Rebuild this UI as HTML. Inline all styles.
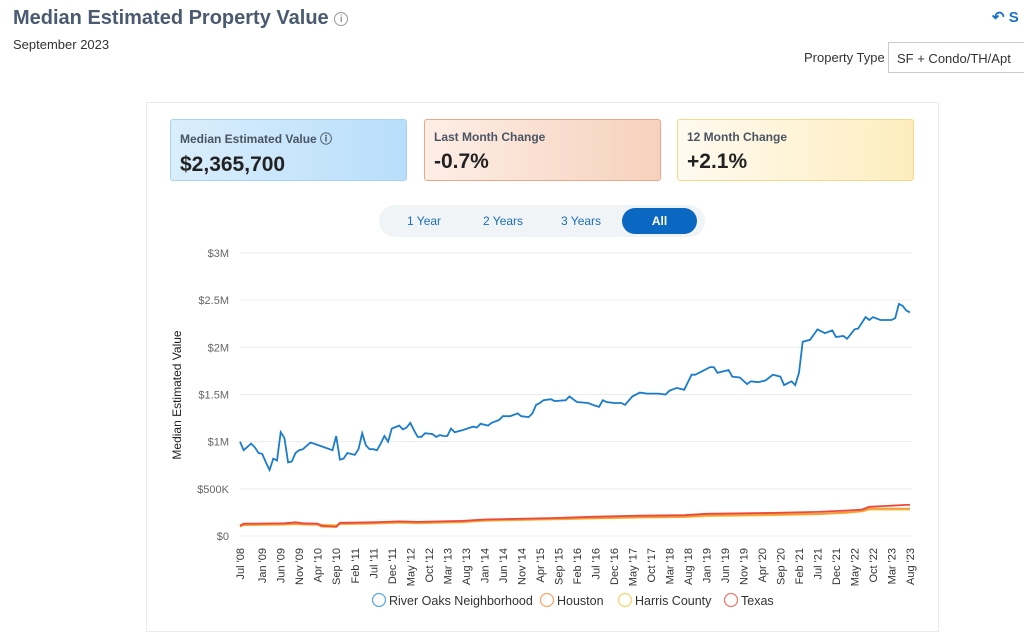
<!DOCTYPE html>
<html><head><meta charset="utf-8"><style>
*{box-sizing:border-box}
body{margin:0;width:1024px;height:615px;overflow:hidden;background:#fff;font-family:"Liberation Sans",sans-serif;position:relative}
.abs{position:absolute}
.box{position:absolute;top:119px;height:62px;border-radius:3px;padding:10px 9px}
.box .l{font-size:12px;color:#4a5563;font-weight:bold}
.box .v{font-size:21px;font-weight:bold;color:#222;margin-top:6px}
</style></head><body>
<div class="abs" style="left:13px;top:7px;font-size:20px;font-weight:bold;color:#4a5a70">Median Estimated Property Value <span style="display:inline-block;width:14px;height:14px;border:1px solid #999;border-radius:50%;font-size:10px;color:#999;text-align:center;line-height:13px;vertical-align:2px">i</span></div>
<div class="abs" style="left:13px;top:37px;font-size:13px;color:#333">September 2023</div>
<div class="abs" style="left:992px;top:8px;font-size:15px;color:#1a73c8;font-weight:bold">↶ S</div>
<div class="abs" style="left:804px;top:50px;font-size:13px;color:#333">Property Type</div>
<div class="abs" style="left:888px;top:42px;width:140px;height:31px;border:1px solid #ccc;font-size:13px;color:#333;padding:8px 8px">SF + Condo/TH/Apt</div>
<div class="abs" style="left:146px;top:102px;width:793px;height:530px;border:1px solid #e8ecef"></div>
<div class="box" style="left:170px;width:237px;background:linear-gradient(90deg,#daeefc,#b8defb);border:1px solid #a9d3f5"><div class="l">Median Estimated Value ⓘ</div><div class="v">$2,365,700</div></div>
<div class="box" style="left:424px;width:237px;background:linear-gradient(90deg,#fdeee6,#f7d1bd);border:1px solid #e9a987"><div class="l">Last Month Change</div><div class="v">-0.7%</div></div>
<div class="box" style="left:677px;width:237px;background:linear-gradient(90deg,#fffaf0,#fdedbe);border:1px solid #f4d98a"><div class="l">12 Month Change</div><div class="v">+2.1%</div></div>
<div class="abs" style="left:379px;top:205px;width:326px;height:32px;background:#f1f4f7;border-radius:16px"></div>
<div class="abs" style="left:407px;top:214px;font-size:12px;color:#1a6fb8">1 Year</div>
<div class="abs" style="left:483px;top:214px;font-size:12px;color:#1a6fb8">2 Years</div>
<div class="abs" style="left:561px;top:214px;font-size:12px;color:#1a6fb8">3 Years</div>
<div class="abs" style="left:622px;top:208px;width:75px;height:26px;background:#0a67c2;border-radius:13px;color:#fff;font-size:12px;font-weight:bold;text-align:center;line-height:26px">All</div>
<svg id="chart" class="abs" style="left:0;top:0" width="1024" height="615"></svg>
<script>
const riverMonths=[0,1,3,4,5,6,7,8,9,10,11,12,13,14,15,16,17,19,20,25,26,27,28,29,31,32,33,34,35,36,37,38,39,40,41,43,44,45,46,47,48,49,50,52,53,54,55,56,57,58,59,60,63,64,65,67,68,70,71,73,75,76,78,79,80,81,82,84,85,88,89,91,94,96,97,98,99,101,103,104,106,108,110,113,115,116,118,120,122,123,125,127,128,129,130,132,133,135,137,138,140,142,143,144,146,147,149,150,151,152,154,156,157,158,160,161,163,164,166,167,169,170,171,173,176,177,178,179,180,181];
const riverValues=[1.00,.91,.98,.94,.88,.87,.78,.70,.82,.80,1.10,1.04,.78,.79,.88,.91,.92,.99,.98,.91,1.06,.81,.82,.88,.86,.92,1.09,.96,.92,.92,.91,.98,1.06,1.00,1.14,1.17,1.13,1.15,1.20,1.12,1.05,1.05,1.09,1.08,1.05,1.07,1.06,1.06,1.14,1.10,1.11,1.12,1.16,1.15,1.19,1.17,1.20,1.23,1.27,1.27,1.30,1.27,1.26,1.30,1.39,1.41,1.44,1.45,1.43,1.44,1.48,1.42,1.41,1.38,1.37,1.44,1.42,1.41,1.41,1.39,1.48,1.52,1.51,1.51,1.50,1.54,1.57,1.55,1.71,1.71,1.75,1.79,1.79,1.73,1.74,1.76,1.69,1.68,1.61,1.64,1.63,1.65,1.68,1.71,1.69,1.60,1.64,1.60,1.73,2.06,2.08,2.19,2.17,2.15,2.18,2.11,2.12,2.09,2.19,2.20,2.32,2.29,2.32,2.29,2.29,2.31,2.46,2.44,2.39,2.37];
const otherMonths=[0,1,12,15,17,21,22,26,27,36,43,48,60,66,84,96,108,120,126,144,156,164,168,170,180,181];
const texasValues=[.11,.13,.135,.145,.135,.13,.11,.10,.14,.145,.155,.15,.16,.175,.19,.205,.215,.22,.235,.245,.255,.27,.28,.31,.33,.33];
const houstonValues=[.10,.12,.125,.13,.125,.12,.10,.095,.13,.135,.145,.14,.15,.165,.18,.19,.20,.205,.22,.23,.235,.25,.265,.29,.29,.29];
const harrisValues=[.10,.115,.12,.125,.12,.12,.12,.115,.125,.13,.14,.135,.145,.16,.175,.185,.195,.20,.21,.22,.23,.245,.26,.28,.28,.28];
const yTicks=[0,0.5,1,1.5,2,2.5,3];
const yTickLabels=["$0","$500K","$1M","$1.5M","$2M","$2.5M","$3M"];
const monthNames=["Jan","Feb","Mar","Apr","May","Jun","Jul","Aug","Sep","Oct","Nov","Dec"];
const totalMonths=182;

const svg=document.getElementById('chart');const NS='http://www.w3.org/2000/svg';
const X0=240,X1=910,Y0=536,Y1=253;
const x=m=>X0+m*(X1-X0)/(totalMonths-1);
const y=v=>Y0-v*(Y0-Y1)/3;
function mk(t,a,txt){const e=document.createElementNS(NS,t);for(const k in a)e.setAttribute(k,a[k]);if(txt!=null)e.textContent=txt;svg.appendChild(e);return e;}
yTicks.forEach((v,i)=>{
 const g=mk('line',{x1:X0,x2:X1+2,y1:y(v),y2:y(v),stroke:'#ececec','stroke-width':1});
 
 
 const t=mk('text',{x:229,y:y(v)+4,'text-anchor':'end','font-size':11,fill:'#666','font-family':'Liberation Sans'},yTickLabels[i]);
 
 
});
const yt=mk('text',{transform:'translate(181,395) rotate(-90)','text-anchor':'middle','font-size':12,fill:'#222','font-family':'Liberation Sans'},'Median Estimated Value');


const labelMonths=[0];for(let m=6;m<=176;m+=5)labelMonths.push(m);labelMonths.push(181);
labelMonths.forEach(m=>{
 const mi=(6+m)%12,yr=2008+Math.floor((6+m)/12);
 const t=mk('text',{transform:`translate(${x(m)+4},548) rotate(-90)`,'text-anchor':'end','font-size':11,fill:'#333','font-family':'Liberation Sans'},monthNames[mi]+" '"+String(yr).slice(2));
 
 
});
function series(ms,vs,color,name){
 const d=ms.map((m,i)=>(i?'L':'M')+x(m).toFixed(1)+','+y(vs[i]).toFixed(1)).join('');
 const p=mk('path',{d:d,fill:'none',stroke:color,'stroke-width':1.8});
 
 
}
series(otherMonths,harrisValues,'#f8c443','harris-county-line');
series(otherMonths,houstonValues,'#f39a3c','houston-line');
series(otherMonths,texasValues,'#ea4a3c','texas-line');
series(riverMonths,riverValues,'#1a7ccc','river-oaks-line');
const legend=[["River Oaks Neighborhood",'#5aa8e6',372],["Houston",'#f4a76b',540],["Harris County",'#f9d46e',618],["Texas",'#ee7a70',724]];
legend.forEach(l=>{
 const c=mk('circle',{cx:l[2]+7,cy:600,r:6.5,fill:'none',stroke:l[1],'stroke-width':1.3});
 
 
 const t=mk('text',{x:l[2]+17,y:605,'font-size':12.5,fill:'#333','font-family':'Liberation Sans'},l[0]);
 
 
});
</script>
</body></html>
